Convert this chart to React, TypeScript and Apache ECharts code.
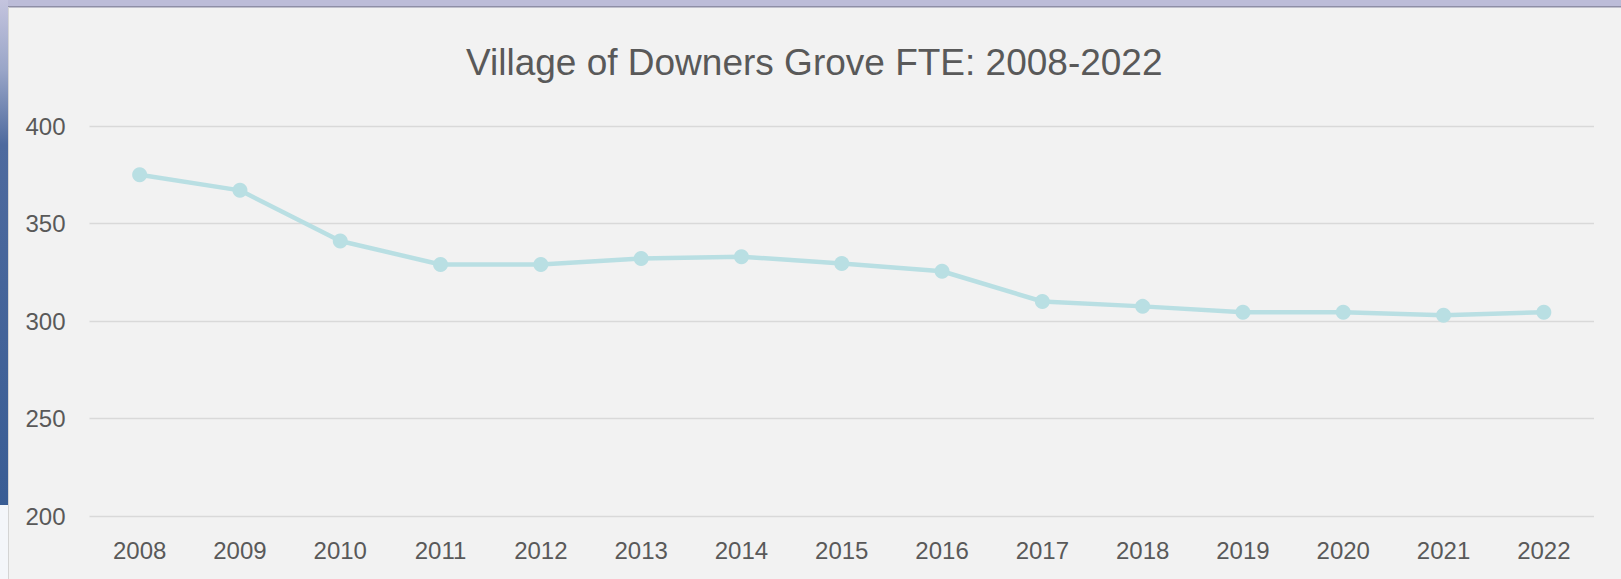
import React, { useEffect, useRef } from "react";
import * as echarts from "echarts";

const years = ["2008", "2009", "2010", "2011", "2012", "2013", "2014", "2015", "2016", "2017", "2018", "2019", "2020", "2021", "2022"];
const fte = [375, 367, 341, 329, 329, 332, 333, 329.5, 325.5, 310, 307.5, 304.5, 304.5, 303, 304.5];
const yTicks = { min: 200, max: 400, interval: 50 };
const titleText = "Village of Downers Grove FTE: 2008-2022";

export default function App() {
  const ref = useRef<HTMLDivElement>(null);
  useEffect(() => {
    const chart = echarts.init(ref.current!, null, { renderer: "svg" });
    chart.setOption({
      animation: false,
      backgroundColor: "#f2f2f2",
      title: {
        text: titleText,
        left: 466,
        top: 44,
        padding: 0,
        textStyle: { fontFamily: "Liberation Sans", fontSize: 37, fontWeight: "normal", color: "#595959" },
      },
      graphic: [
        {
          type: "rect",
          shape: { x: 0, y: 0, width: 1621, height: 7 },
          style: { fill: "#bcbcd8" },
          silent: true,
        },
        {
          type: "rect",
          shape: { x: 0, y: 6, width: 1621, height: 1.5 },
          style: { fill: "#8e8ea6" },
          silent: true,
        },
        {
          type: "rect",
          shape: { x: 0, y: 0, width: 8, height: 579 },
          style: {
            fill: new echarts.graphic.LinearGradient(0, 0, 0, 1, [
              { offset: 0, color: "#c4c4de" },
              { offset: 0.12, color: "#9aa6c8" },
              { offset: 0.25, color: "#4e6a9e" },
              { offset: 1, color: "#355a92" },
            ]),
          },
          silent: true,
        },
        {
          type: "rect",
          shape: { x: 0, y: 505, width: 8, height: 74 },
          style: { fill: "#f4f6fa" },
          silent: true,
        },
        {
          type: "line",
          shape: { x1: 8.5, y1: 7, x2: 8.5, y2: 579 },
          style: { stroke: "#d4d4d4", lineWidth: 1 },
          silent: true,
        },
      ],
      grid: { left: 89.5, right: 27, top: 126, bottom: 63, containLabel: false },
      xAxis: {
        type: "category",
        data: years,
        boundaryGap: true,
        axisLine: { show: false },
        axisTick: { show: false },
        axisLabel: { fontFamily: "Liberation Sans", fontSize: 24, color: "#595959", margin: 22 },
      },
      yAxis: {
        type: "value",
        min: yTicks.min,
        max: yTicks.max,
        interval: yTicks.interval,
        axisLine: { show: false },
        axisTick: { show: false },
        axisLabel: { fontFamily: "Liberation Sans", fontSize: 24, color: "#595959", margin: 24 },
        splitLine: { lineStyle: { color: "#d9d9d9", width: 1.3 } },
      },
      series: [
        {
          type: "line",
          data: fte,
          symbol: "circle",
          symbolSize: 15,
          lineStyle: { color: "#b9dfe3", width: 4.5 },
          itemStyle: { color: "#b9dfe3" },
        },
      ],
    });
    return () => chart.dispose();
  }, []);
  return <div ref={ref} style={{ position: "fixed", left: 0, top: 0, width: 1621, height: 579 }} />;
}
